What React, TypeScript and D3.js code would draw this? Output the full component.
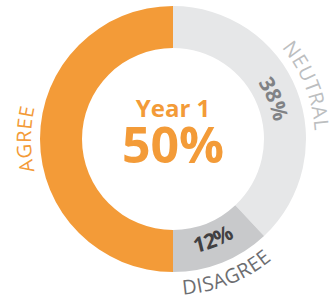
import React from 'react';
import * as d3 from 'd3';

// slices in drawing order, clockwise from 12 o'clock
const categories = ['NEUTRAL', 'DISAGREE', 'AGREE'];
const values = [38, 12, 50];
const sliceColors = ['#E6E7E8', '#C8C9CB', '#F39B38'];
const labelColors = ['#BCBEC0', '#6D6E71', '#F39B38'];
const pctColors = ['#808285', '#414042', 'none'];
const showPct = [true, true, false];
const centerTitle = 'Year 1';
const centerValue = '50%';

const width = 329, height = 303;
const cx = 173, cy = 139;
const outerR = 133, innerR = 91;
const font = '"Open Sans", "Noto Sans", sans-serif';

// text path along a circle, centred at pie angle `mid`
function arcD(r: number, mid: number, flip: boolean) {
  const span = Math.PI * 0.9;
  const a = mid - Math.PI / 2;
  const p = d3.path();
  if (flip) p.arc(0, 0, r, a + span / 2, a - span / 2, true);
  else p.arc(0, 0, r, a - span / 2, a + span / 2, false);
  return p.toString();
}

export default function App() {
  const pie = d3.pie<number>().sort(null).value(d => d);
  const arcs = pie(values);
  const arc = d3.arc<d3.PieArcDatum<number>>().innerRadius(innerR).outerRadius(outerR);

  return (
    <svg width={width} height={height} style={{ position: 'absolute', left: 0, top: 0 }}>
      <g transform={`translate(${cx},${cy})`}>
        {arcs.map((d, i) => (
          <path key={'s' + i} d={arc(d) || ''} fill={sliceColors[i]} />
        ))}
        {arcs.map((d, i) => {
          const mid = (d.startAngle + d.endAngle) / 2;
          const flip = mid > Math.PI / 2 && mid < Math.PI * 1.5 - 0.01;
          // labels outside the ring, centred near r = 149
          const rOut = flip ? 156 : 142;
          const rIn = flip ? 116 : 102;
          return (
            <g key={'l' + i}>
              <path id={'lab' + i} d={arcD(rOut, mid, flip)} fill="none" />
              <text fontFamily={font} fontSize={20} fill={labelColors[i]} letterSpacing={0.6}>
                <textPath href={'#lab' + i} startOffset="50%" textAnchor="middle">
                  {categories[i]}
                </textPath>
              </text>
              {showPct[i] && (
                <>
                  <path id={'pct' + i} d={arcD(rIn, mid, flip)} fill="none" />
                  <text fontFamily={font} fontSize={21} fontWeight={700} fill={pctColors[i]}>
                    <textPath href={'#pct' + i} startOffset="50%" textAnchor="middle">
                      {values[i] + '%'}
                    </textPath>
                  </text>
                </>
              )}
            </g>
          );
        })}
        <text y={-22} textAnchor="middle" fontFamily={font} fontSize={24} fontWeight={700} fill="#F39B38">
          {centerTitle}
        </text>
        <text y={24} textAnchor="middle" fontFamily={font} fontSize={50} fontWeight={700} fill="#F39B38">
          {centerValue}
        </text>
      </g>
    </svg>
  );
}
